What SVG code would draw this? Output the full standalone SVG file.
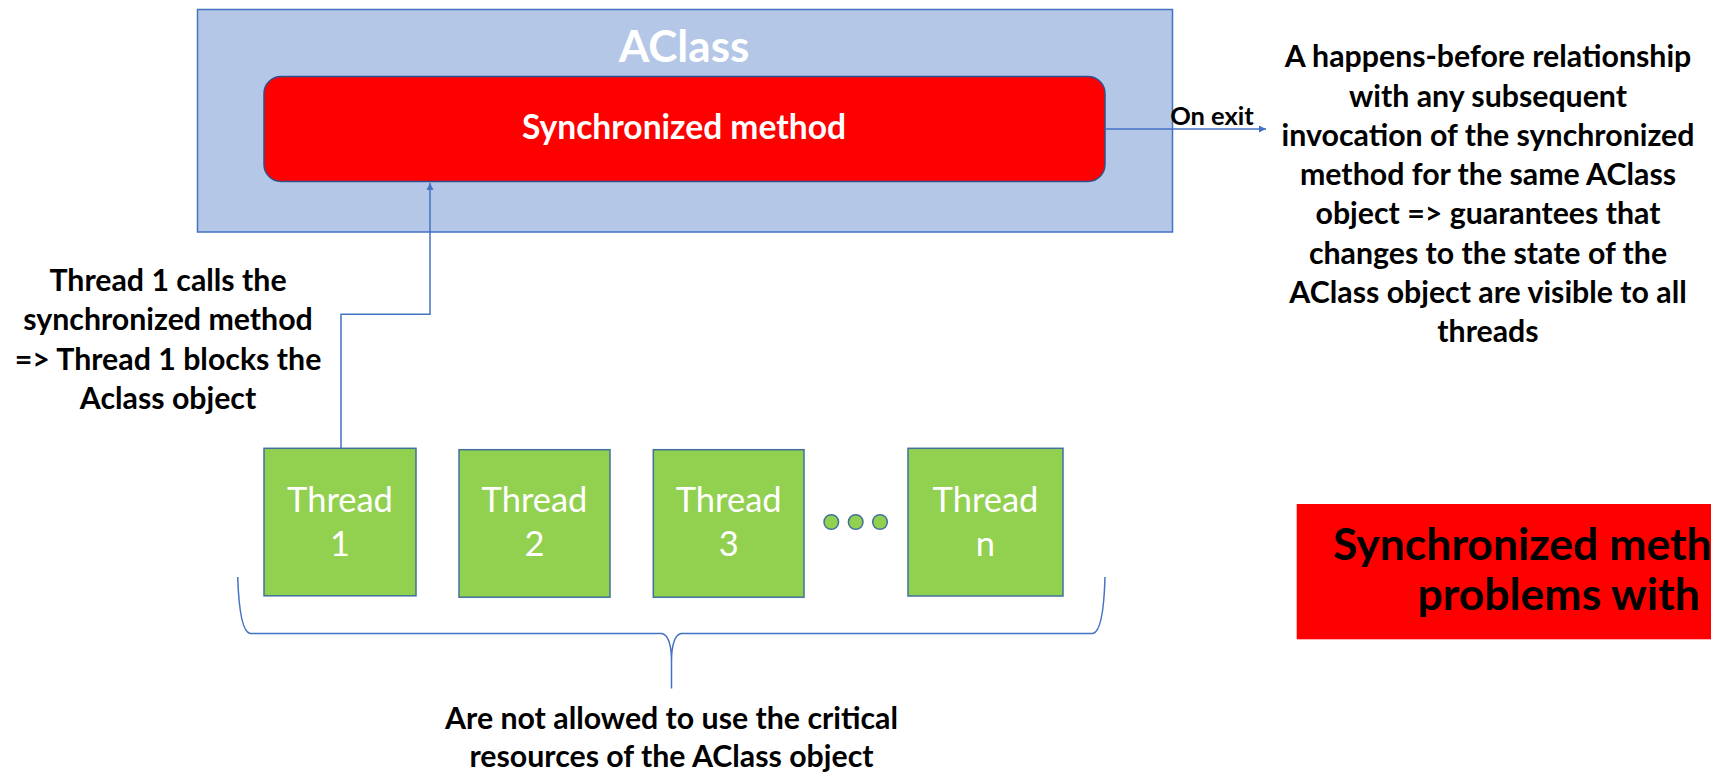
<svg xmlns="http://www.w3.org/2000/svg" width="1711" height="772" viewBox="0 0 1711 772">
  <style>
    .b { font-family: Lato, "Open Sans", sans-serif; font-weight: bold; }
    .r { font-family: Lato, "Open Sans", sans-serif; font-weight: normal; }
    .dark { fill: #000000; }
    .white { fill: #FFFFFF; }
    .thread rect { fill: #92D050; stroke: #41719C; stroke-width: 1.5; }
    .thread text { font-family: Lato, "Open Sans", sans-serif; font-size: 34.5px; fill: #FFFFFF; text-anchor: middle; }
    .conn { fill: none; stroke: #4472C4; stroke-width: 1.5; }
    .lbl { text-anchor: middle; font-size: 30.3px; }
  </style>
  <defs>
    <marker id="arrow" viewBox="0 0 10 10" refX="10" refY="5" markerWidth="7" markerHeight="7" markerUnits="userSpaceOnUse" orient="auto">
      <path d="M0,0 L10,5 L0,10 Z" fill="#4472C4"/>
    </marker>
  </defs>
  <rect width="1711" height="772" fill="#FFFFFF"/>

  <g id="aclass">
    <rect x="197.5" y="9.5" width="975" height="222.5" fill="#B4C7E7" stroke="#4472C4" stroke-width="1.5"/>
    <text x="684" y="61.5" class="b white" font-size="44" text-anchor="middle">AClass</text>
  </g>

  <g id="sync-method">
    <rect x="264" y="76.5" width="841" height="105" rx="17" ry="17" fill="#FF0000" stroke="#2F528F" stroke-width="1.5"/>
    <text x="684" y="138.5" class="b white" font-size="33.6" text-anchor="middle">Synchronized method</text>
  </g>

  <g id="connectors">
    <path class="conn" d="M341,448 L341,314.3 L430,314.3 L430,183" marker-end="url(#arrow)"/>
    <path class="conn" d="M1105,129 L1266,129" marker-end="url(#arrow)"/>
    <path class="conn" d="M237.7,577 Q239.5,631 250,633.5 L662,633.5 Q671.5,636 671.5,662 L671.5,688.5 M671.5,662 Q671.5,636 681,633.5 L1093,633.5 Q1103.5,631 1105,577"/>
  </g>

  <g id="on-exit-label">
    <text x="1212" y="125" class="b dark" font-size="25.5" text-anchor="middle">On exit</text>
  </g>

  <g id="note-right" class="b dark lbl">
    <text x="1488" y="67">A happens-before relationship</text>
    <text x="1488" y="106.5">with any subsequent</text>
    <text x="1488" y="145.8">invocation of the synchronized</text>
    <text x="1488" y="185">method for the same AClass</text>
    <text x="1488" y="224.4">object =&gt; guarantees that</text>
    <text x="1488" y="263.7">changes to the state of the</text>
    <text x="1488" y="303">AClass object are visible to all</text>
    <text x="1488" y="342.3">threads</text>
  </g>

  <g id="note-left" class="b dark lbl">
    <text x="168" y="290.5">Thread 1 calls the</text>
    <text x="168" y="330">synchronized method</text>
    <text x="168" y="369.5">=&gt; Thread 1 blocks the</text>
    <text x="168" y="409">Aclass object</text>
  </g>

  <g id="thread1" class="thread">
    <rect x="264" y="448.3" width="152" height="147.5"/>
    <text x="340" y="512">Thread</text>
    <text x="340" y="556">1</text>
  </g>
  <g id="thread2" class="thread">
    <rect x="459" y="449.7" width="151" height="147.5"/>
    <text x="534.5" y="512">Thread</text>
    <text x="534.5" y="556">2</text>
  </g>
  <g id="thread3" class="thread">
    <rect x="653.3" y="449.7" width="150.7" height="147.5"/>
    <text x="728.7" y="512">Thread</text>
    <text x="728.7" y="556">3</text>
  </g>
  <g id="dots">
    <circle cx="831.3" cy="522" r="7.3" fill="#92D050" stroke="#41719C" stroke-width="1.5"/>
    <circle cx="855.7" cy="522" r="7.3" fill="#92D050" stroke="#41719C" stroke-width="1.5"/>
    <circle cx="880" cy="522" r="7.3" fill="#92D050" stroke="#41719C" stroke-width="1.5"/>
  </g>
  <g id="threadn" class="thread">
    <rect x="908" y="448.3" width="155" height="147.7"/>
    <text x="985.5" y="512">Thread</text>
    <text x="985.5" y="556">n</text>
  </g>

  <g id="note-bottom" class="b dark lbl">
    <text x="671.5" y="728.5">Are not allowed to use the critical</text>
    <text x="671.5" y="766.5">resources of the AClass object</text>
  </g>

  <g id="title-box">
    <rect x="1296.7" y="504" width="420" height="135.3" fill="#FF0000"/>
    <text x="1333" y="560" class="b dark" font-size="44.5">Synchronized meth</text>
    <text x="1417.5" y="610" class="b dark" font-size="44.5">problems with</text>
  </g>
</svg>
